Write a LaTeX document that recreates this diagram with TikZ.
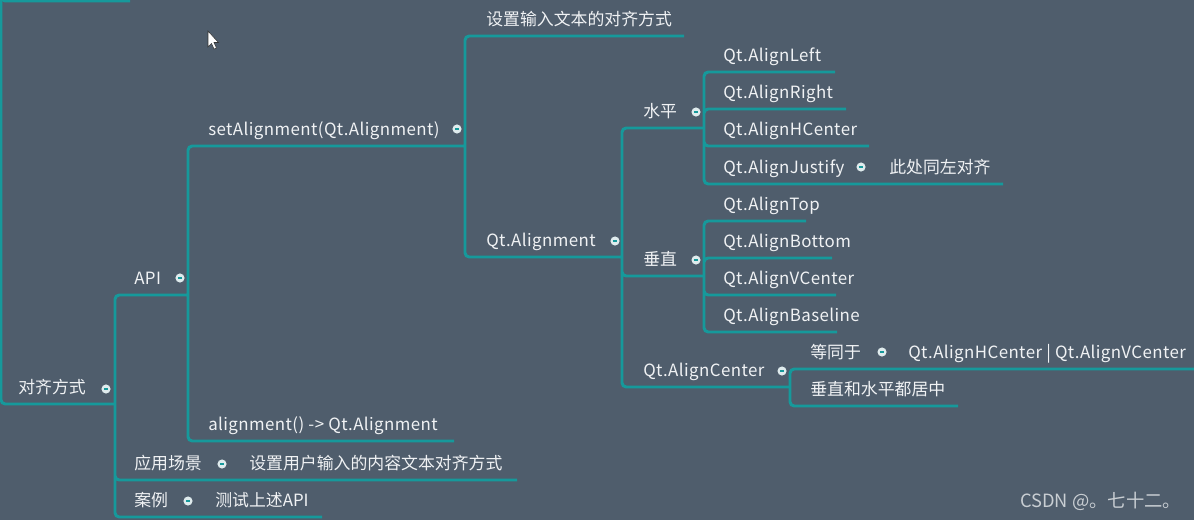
\documentclass[tikz,border=0pt]{standalone}
\usepackage{fontspec}
\setmainfont{Noto Sans CJK SC}[LetterSpace=2.5]
\newfontfamily\cjk{Noto Sans CJK SC}
\definecolor{bgc}{HTML}{4F5D6C}
\definecolor{branchc}{HTML}{16999B}
\definecolor{txtc}{HTML}{F0F2F4}
\definecolor{markc}{HTML}{C9CED3}

\begin{document}
\begin{tikzpicture}[x=0.025cm,y=-0.025cm,
    topic/.style={anchor=base west,inner sep=0pt,text=txtc,
      font=\fontsize{12}{14}\selectfont},
    cjktopic/.style={topic,font=\fontsize{12}{14}\selectfont\cjk},
    fold/.style={circle,fill=txtc!92!branchc,inner sep=0pt,minimum size=6.5pt,
      path picture={\draw[branchc,line width=0.9pt]
        ([xshift=-1.6pt]path picture bounding box.center) --
        ([xshift=1.6pt]path picture bounding box.center);}},
    branch/.style={draw=branchc,line width=2.1pt,rounded corners=3pt}]
    \useasboundingbox (0,0) rectangle (1194,520);
    \clip (0,0) rectangle (1194,520);
    \fill[bgc] (0,0) rectangle (1194,520);

    % line ends of every topic
    \coordinate (prev) at (1,-6);
    \coordinate (prev-e) at (130,1);
    \coordinate (root-e) at (115,404);
    \coordinate (api-e) at (188,295);
    \coordinate (scene-e) at (517,480);
    \coordinate (case-e) at (322,517);
    \coordinate (setal-e) at (465,146);
    \coordinate (getal-e) at (454,441);
    \coordinate (setdesc-e) at (684,36);
    \coordinate (qtal-e) at (622,257);
    \coordinate (hor-e) at (704,128);
    \coordinate (ver-e) at (704,276);
    \coordinate (center-e) at (790,387);
    \coordinate (left-e) at (835,72);
    \coordinate (right-e) at (846,109);
    \coordinate (hcenter-e) at (869,146);
    \coordinate (justify-e) at (1003,184);
    \coordinate (top-e) at (806,221);
    \coordinate (bottom-e) at (832,258);
    \coordinate (vcenter-e) at (836,295);
    \coordinate (baseline-e) at (837,332);
    \coordinate (same-e) at (1194,369);
    \coordinate (both-e) at (958,406);

    \draw[branch] (prev) |- (prev-e);
    \draw[branch] (prev) |- (root-e);
    \draw[branch]
          (root-e) |- (api-e)
          (root-e) |- (scene-e)
          (root-e) |- (case-e)
          (api-e) |- (setal-e)
          (api-e) |- (getal-e)
          (setal-e) |- (setdesc-e)
          (setal-e) |- (qtal-e)
          (qtal-e) |- (hor-e)
          (qtal-e) |- (ver-e)
          (qtal-e) |- (center-e);
    \draw[branch]
          (hor-e) |- (left-e)
          (hor-e) |- (right-e)
          (hor-e) |- (hcenter-e)
          (hor-e) |- (justify-e)
          (ver-e) |- (top-e)
          (ver-e) |- (bottom-e)
          (ver-e) |- (vcenter-e)
          (ver-e) |- (baseline-e)
          (center-e) |- (same-e)
          (center-e) |- (both-e);

    \node[cjktopic] (root) at (18,393) {对齐方式};
    \node[topic] (api) at (134,284) {API};
    \node[cjktopic] (scene) at (134,469) {应用场景};
    \node[cjktopic] (scenetxt) at (249,469) {设置用户输入的内容文本对齐方式};
    \node[cjktopic] (case) at (134,506) {案例};
    \node[cjktopic] (casetxt) at (215,506) {测试上述API};
    \node[topic] (setal) at (208,135) {setAlignment(Qt.Alignment)};
    \node[topic] (getal) at (208,430) {alignment() -> Qt.Alignment};
    \node[cjktopic] (setdesc) at (486,25) {设置输入文本的对齐方式};
    \node[topic] (qtal) at (486,246) {Qt.Alignment};
    \node[cjktopic] (hor) at (643,117) {水平};
    \node[cjktopic] (ver) at (643,265) {垂直};
    \node[topic] (center) at (643,376) {Qt.AlignCenter};
    \node[topic] (left) at (723,61) {Qt.AlignLeft};
    \node[topic] (right) at (723,98) {Qt.AlignRight};
    \node[topic] (hcenter) at (723,135) {Qt.AlignHCenter};
    \node[topic] (justify) at (723,173) {Qt.AlignJustify};
    \node[cjktopic] (justifytxt) at (889,173) {此处同左对齐};
    \node[topic] (top) at (723,210) {Qt.AlignTop};
    \node[topic] (bottom) at (723,247) {Qt.AlignBottom};
    \node[topic] (vcenter) at (723,284) {Qt.AlignVCenter};
    \node[topic] (baseline) at (723,321) {Qt.AlignBaseline};
    \node[cjktopic] (same) at (810,358) {等同于};
    \node[topic] (sametxt) at (908,358) {Qt.AlignHCenter | Qt.AlignVCenter};
    \node[cjktopic] (both) at (810,395) {垂直和水平都居中};

    \node[fold] (root-f) at (106,389) {};
    \node[fold] (api-f) at (180,278) {};
    \node[fold] (scene-f) at (222,464) {};
    \node[fold] (case-f) at (188,501) {};
    \node[fold] (setal-f) at (457,129) {};
    \node[fold] (qtal-f) at (615,241) {};
    \node[fold] (hor-f) at (696,112) {};
    \node[fold] (ver-f) at (696,260) {};
    \node[fold] (center-f) at (782,371) {};
    \node[fold] (justify-f) at (861,167) {};
    \node[fold] (same-f) at (882,352) {};

    \node[anchor=base west,inner sep=0pt,text=markc,font=\fontsize{13}{15}\selectfont\cjk]
          (mark) at (1020,507) {CSDN @。七十二。};
    \filldraw[fill=white,draw=black!80,line width=0.4pt]
          (208,31) -- (208,47) -- (211.5,43.5) -- (214,49) -- (216.5,48)
          -- (214,42.5) -- (218.5,42.5) -- cycle;
  \end{tikzpicture}
\end{document}
